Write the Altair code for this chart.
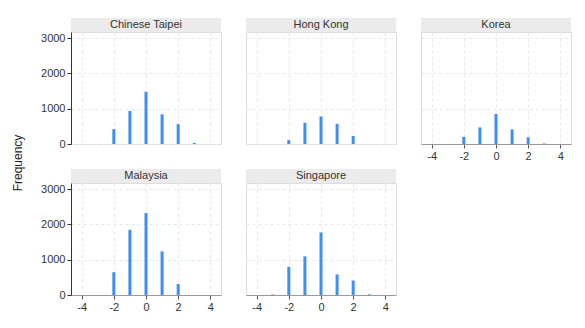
import altair as alt
import pandas as pd

positions = [-3, -2, -1, 0, 1, 2, 3]
chinese_taipei = [0, 420, 935, 1480, 840, 560, 30]
hong_kong = [0, 110, 600, 780, 570, 225, 0]
korea = [0, 200, 470, 850, 415, 190, 15]
malaysia = [0, 645, 1845, 2320, 1235, 310, 0]
singapore = [15, 795, 1095, 1770, 580, 410, 20]

x_ticks = [-4, -2, 0, 2, 4]
y_ticks = [0, 1000, 2000, 3000]

W, H = 150, 112
BAR = "#3d8ef7"
FONT = "Liberation Sans"


def panel(name, vals, show_x, show_y, ylabel=False):
    df = pd.DataFrame({"x": positions, "y": vals})
    one = pd.DataFrame({"t": [name]})
    x_axis = alt.Axis(values=x_ticks, grid=True, gridDash=[3, 3], gridColor="#e8e8e8",
                      labels=show_x, ticks=show_x, domain=show_x, domainColor="#999999",
                      tickColor="#555555", labelColor="#333333", labelFontSize=11,
                      tickSize=4, labelPadding=2, title=None, labelFont=FONT,
                      labelExpr="datum.value < 0 ? '-' + abs(datum.value) : '' + datum.value")
    y_axis = alt.Axis(values=y_ticks, grid=True, gridDash=[3, 3], gridColor="#e8e8e8",
                      labels=show_y, ticks=show_y, domain=show_y, domainColor="#333333",
                      tickColor="#333333", labelColor="#333333", labelFontSize=11,
                      tickSize=4, labelPadding=2, title=None, labelFont=FONT, format="d")
    bars = alt.Chart(df).mark_bar(size=3, color=BAR).encode(
        x=alt.X("x:Q", scale=alt.Scale(domain=[-4.35, 4.35], nice=False, zero=False), axis=x_axis),
        y=alt.Y("y:Q", scale=alt.Scale(domain=[0, 3170], nice=False), axis=y_axis),
    )
    head = alt.Chart(one).mark_rect(color="#ebebeb").encode(
        x=alt.value(0), x2=alt.value(W), y=alt.value(-14), y2=alt.value(0)
    )
    txt = alt.Chart(one).mark_text(fontSize=11, color="#333333", font=FONT).encode(
        x=alt.value(W / 2), y=alt.value(-7), text="t:N"
    )
    layers = [bars, head, txt]
    if ylabel:
        ft = alt.Chart(pd.DataFrame({"t": ["Frequency"]})).mark_text(
            angle=270, fontSize=12, color="#222222", font=FONT
        ).encode(x=alt.value(-53), y=alt.value(131), text="t:N")
        layers.append(ft)
    return alt.layer(*layers).properties(width=W, height=H)


chart = alt.concat(
    panel("Chinese Taipei", chinese_taipei, False, True, ylabel=True),
    panel("Hong Kong", hong_kong, False, False),
    panel("Korea", korea, True, False),
    panel("Malaysia", malaysia, True, True),
    panel("Singapore", singapore, True, False),
    columns=3, spacing={"row": 39, "column": 25}, bounds="flush",
).properties(
    padding={"left": 3, "top": 9, "right": 5, "bottom": 5}
).configure_view(stroke=None).configure(font=FONT)

chart.save("out.html", embed_options={"renderer": "svg", "actions": False})
